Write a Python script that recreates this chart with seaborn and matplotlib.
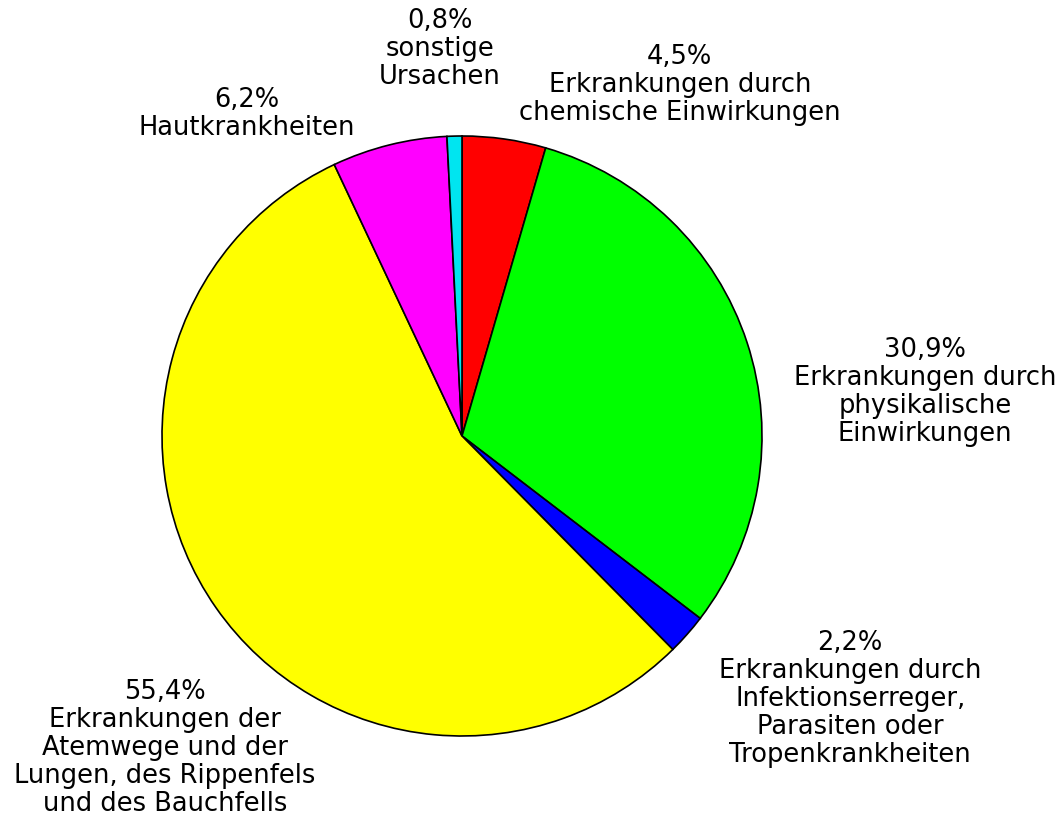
import matplotlib
matplotlib.use("Agg")
import matplotlib.pyplot as plt
import seaborn as sns

# data, clockwise from 12 o'clock
shares = [4.5, 30.9, 2.2, 55.4, 6.2, 0.8]
share_text = ["4,5%", "30,9%", "2,2%", "55,4%", "6,2%", "0,8%"]
categories = [
    "Erkrankungen durch\nchemische Einwirkungen",
    "Erkrankungen durch\nphysikalische\nEinwirkungen",
    "Erkrankungen durch\nInfektionserreger,\nParasiten oder\nTropenkrankheiten",
    "Erkrankungen der\nAtemwege und der\nLungen, des Rippenfels\nund des Bauchfells",
    "Hautkrankheiten",
    "sonstige\nUrsachen",
]
colors = ["#ff0000", "#00ff00", "#0000ff", "#ffff00", "#ff00ff", "#00e5f0"]

# label block centres (axes fraction of the pie box)
label_pos = [(0.863, 1.087), (1.272, 0.575), (1.147, 0.063), (0.005, -0.018), (0.142, 1.038), (0.463, 1.147)]

sns.set_style("white")
plt.rcParams["font.family"] = ["DejaVu Sans"]

fig = plt.figure(figsize=(10.61, 8.2), dpi=100)
ax = fig.add_axes([(462 - 300) / 1061, (820 - 437 - 300) / 820, 600 / 1061, 600 / 820])

ax.pie(shares, colors=colors, startangle=90, counterclock=False,
       wedgeprops=dict(edgecolor="black", linewidth=1.2))
ax.set_xlim(-1, 1)
ax.set_ylim(-1, 1)
ax.set_aspect("equal")
ax.axis("off")

for pct, cat, (x, y) in zip(share_text, categories, label_pos):
    ax.text(x, y, pct + "\n" + cat, transform=ax.transAxes, ha="center", va="center",
            fontsize=18.5, linespacing=1.1, color="black", clip_on=False)

fig.savefig("out.png", dpi=100, facecolor="white")
